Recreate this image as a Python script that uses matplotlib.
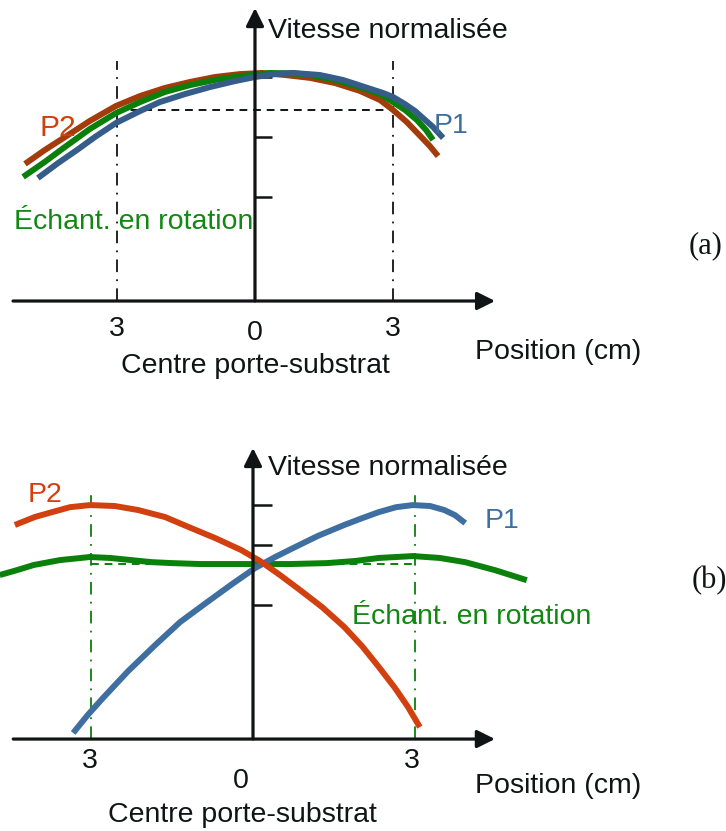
import matplotlib
matplotlib.use("Agg")
from matplotlib import pyplot as plt
from matplotlib import transforms

plt.rcParams['font.family'] = ['Liberation Sans', 'DejaVu Sans']

# ---- panel (a): position in cm, speed normalised to the centre value ----
a_p2_x = [-5.00, -4.57, -4.13, -3.59, -3.02, -2.50, -1.96, -1.41, -0.87, -0.33, 0.15,
          0.65, 1.20, 1.74, 2.28, 2.72, 3.00, 3.30, 3.59, 3.80, 3.98]
a_p2_y = [0.612, 0.674, 0.732, 0.804, 0.871, 0.915, 0.951, 0.978, 1.000, 1.013, 1.018,
          1.009, 0.996, 0.973, 0.938, 0.897, 0.853, 0.799, 0.737, 0.692, 0.647]
a_rot_x = [-5.04, -4.57, -4.13, -3.59, -3.02, -2.50, -1.96, -1.41, -0.87, -0.33, 0.33,
           0.87, 1.20, 1.74, 2.28, 2.72, 3.00, 3.26, 3.52, 3.72, 3.87]
a_rot_y = [0.554, 0.621, 0.688, 0.768, 0.839, 0.888, 0.933, 0.964, 0.987, 1.004, 1.018,
           1.016, 1.009, 0.987, 0.955, 0.924, 0.888, 0.853, 0.808, 0.763, 0.719]
a_p1_x = [-4.72, -4.28, -3.87, -3.48, -3.02, -2.50, -2.07, -1.52, -0.98, -0.43, 0.00, 0.43,
          0.83, 1.41, 1.91, 2.39, 2.78, 3.00, 3.26, 3.48, 3.65, 3.87, 4.09]
a_p1_y = [0.549, 0.616, 0.674, 0.732, 0.795, 0.848, 0.888, 0.924, 0.955, 0.982, 1.000, 1.013,
          1.018, 1.009, 0.987, 0.955, 0.929, 0.911, 0.879, 0.848, 0.817, 0.777, 0.728]
a_ticks = [1.0, 0.732, 0.464]
a_level = 0.853

# ---- panel (b) ----
b_p2_x = [-4.41, -4.04, -3.72, -3.39, -3.02, -2.56, -2.13, -1.63, -1.19, -0.70, -0.22,
          0.13, 0.50, 0.87, 1.28, 1.69, 2.02, 2.33, 2.63, 2.87, 3.09]
b_p2_y = [0.915, 0.949, 0.970, 0.991, 1.000, 0.996, 0.979, 0.949, 0.906, 0.859, 0.808,
          0.761, 0.701, 0.637, 0.564, 0.479, 0.397, 0.308, 0.218, 0.137, 0.051]
b_p1_x = [-3.33, -3.06, -2.78, -2.31, -1.81, -1.35, -0.85, -0.39, 0.04, 0.41, 0.74,
          1.20, 1.69, 2.02, 2.33, 2.65, 2.96, 3.28, 3.54, 3.74, 3.93]
b_p1_y = [0.026, 0.103, 0.175, 0.291, 0.402, 0.500, 0.585, 0.662, 0.731, 0.778, 0.816,
          0.868, 0.915, 0.944, 0.970, 0.991, 1.000, 0.996, 0.979, 0.957, 0.923]
b_rot_x = [-4.69, -4.37, -4.06, -3.57, -3.02, -2.65, -2.26, -1.87, -1.50, -0.98, -0.43,
           0.04, 0.69, 1.37, 1.89, 2.33, 2.65, 2.96, 3.46, 3.93, 4.48, 5.07]
b_rot_y = [0.701, 0.722, 0.744, 0.765, 0.778, 0.774, 0.765, 0.756, 0.752, 0.748, 0.748,
           0.748, 0.748, 0.752, 0.761, 0.774, 0.778, 0.782, 0.774, 0.756, 0.722, 0.679]
b_ticks = [1.0, 0.829, 0.573]
b_level = 0.748

pos_ticks = [-3, 0, 3]
pos_labels = ['3', '0', '3']

INK = '#111414'
FS = 20.5


def draw_axes(ax, x_from, x_to, y_top, ticks, tick_len, mark_color, level, mark_top):
    # axis arrows
    for tip in [(x_to, 0), (0, y_top)]:
        start = (x_from, 0) if tip[1] == 0 else (0, 0)
        ax.annotate('', xy=tip, xytext=start,
                    arrowprops=dict(arrowstyle='-|>', lw=2.3, color=INK,
                                    mutation_scale=27, shrinkA=0, shrinkB=0))
    for t in ticks:
        ax.plot([0, tick_len], [t, t], color=INK, lw=1.8, solid_capstyle='butt')
    # +/- 3 cm markers and reference level
    for xv in [pos_ticks[0], pos_ticks[-1]]:
        ax.plot([xv, xv], [0, mark_top], color=mark_color, lw=1.3, ls=(0, (7, 4, 1, 4)))
    ax.plot([pos_ticks[0], pos_ticks[-1]], [level, level], color=mark_color,
            lw=1.4, ls=(0, (4, 3)))


def curve(ax, xs, ys, color):
    ax.plot(xs, ys, color=color, lw=4.3, solid_capstyle='butt', solid_joinstyle='round')


fig = plt.figure(figsize=(7.26, 8.31), dpi=100)

# panel (a)
ax = fig.add_axes([0, 1 - 415 / 831, 1, 415 / 831])
ax.set_xlim(-5.543, 10.239)
ax.set_ylim(-0.5089, 1.3438)
ax.axis('off')
ta = transforms.offset_copy(ax.transData, fig=fig, y=-3, units='dots')
draw_axes(ax, -5.26, 5.22, 1.308, a_ticks, 0.37, INK, a_level, 1.07)
curve(ax, a_p2_x, a_p2_y, '#a33b0b')
curve(ax, a_rot_x, a_rot_y, '#0b7f0b')
curve(ax, a_p1_x, a_p1_y, '#365c8a')
ax.text(0.28, 1.219, 'Vitesse normalisée', fontsize=FS, color=INK, ha='left', va='center', transform=ta)
ax.text(-4.28, 0.786, 'P2', fontsize=21.5, color='#d0400c', ha='center', va='center', transform=ta)
ax.text(4.26, 0.795, 'P1', fontsize=FS, color='#3e6c9e', ha='center', va='center', transform=ta)
ax.text(-5.24, 0.366, 'Échant. en rotation', fontsize=FS, color='#118811', ha='left', va='center',
        transform=ta)
for xv, lab, yv in zip(pos_ticks, pos_labels, [-0.112, -0.129, -0.112]):
    ax.text(xv, yv, lab, fontsize=FS, color=INK, ha='center', va='center', transform=ta)
ax.text(4.78, -0.214, 'Position (cm)', fontsize=FS, color=INK, ha='left', va='center', transform=ta)
ax.text(0.0, -0.277, 'Centre porte-substrat', fontsize=FS, color=INK, ha='center', va='center',
        transform=ta)
ax.text(9.80, 0.259, '(a)', fontsize=22, color=INK, ha='center', va='center',
        family='Liberation Serif', transform=ta)

# panel (b)
bx = fig.add_axes([0, 0, 1, 416 / 831])
bx.set_xlim(-4.685, 8.759)
bx.set_ylim(-0.393, 1.385)
bx.axis('off')
tb = transforms.offset_copy(bx.transData, fig=fig, y=-3, units='dots')
draw_axes(bx, -4.44, 4.48, 1.244, b_ticks, 0.35, '#0b800b', b_level, 1.05)
curve(bx, b_rot_x, b_rot_y, '#0b800b')
curve(bx, b_p1_x, b_p1_y, '#3f6fa0')
curve(bx, b_p2_x, b_p2_y, '#d24010')
bx.text(0.28, 1.171, 'Vitesse normalisée', fontsize=FS, color=INK, ha='left', va='center', transform=tb)
bx.text(-3.85, 1.056, 'P2', fontsize=FS, color='#d24010', ha='center', va='center', transform=tb)
bx.text(4.61, 0.944, 'P1', fontsize=FS, color='#3f6fa0', ha='center', va='center', transform=tb)
bx.text(1.83, 0.534, 'Échant. en rotation', fontsize=FS, color='#118811', ha='left', va='center',
        transform=tb)
for xv, lab, yv in zip([-3.02, -0.22, 2.94], pos_labels, [-0.081, -0.167, -0.081]):
    bx.text(xv, yv, lab, fontsize=FS, color=INK, ha='center', va='center', transform=tb)
bx.text(4.11, -0.188, 'Position (cm)', fontsize=FS, color=INK, ha='left', va='center', transform=tb)
bx.text(-0.2, -0.312, 'Centre porte-substrat', fontsize=FS, color=INK, ha='center', va='center',
        transform=tb)
bx.text(8.46, 0.692, '(b)', fontsize=22, color=INK, ha='center', va='center',
        family='Liberation Serif', transform=tb)

fig.savefig('out.png', dpi=100)
